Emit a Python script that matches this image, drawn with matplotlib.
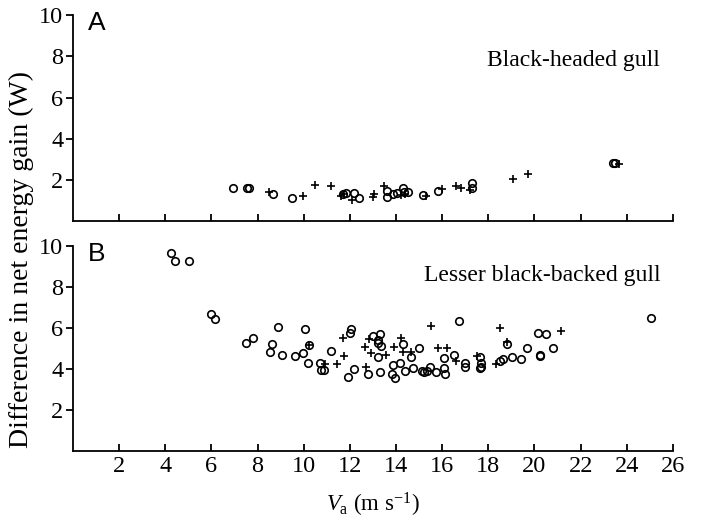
import matplotlib.pyplot as plt

plt.rcParams['font.family'] = ['Liberation Serif', 'DejaVu Serif']
plt.rcParams['mathtext.fontset'] = 'custom'
plt.rcParams['mathtext.rm'] = 'Liberation Serif'
plt.rcParams['mathtext.it'] = 'Liberation Serif:italic'

# panel A: black-headed gull
a_circ_x = [6.95, 7.55, 7.65, 8.65, 9.5, 11.7, 11.85, 12.2, 12.4, 13.6, 13.6, 13.85,
            14.05, 14.3, 14.35, 14.5, 15.15, 15.8, 17.3, 17.3, 23.4, 23.5]
a_circ_y = [1.6, 1.6, 1.6, 1.33, 1.12, 1.3, 1.35, 1.38, 1.12, 1.45, 1.15, 1.3,
            1.35, 1.6, 1.4, 1.4, 1.27, 1.45, 1.85, 1.6, 2.8, 2.8]
a_plus_x = [8.5, 9.95, 10.5, 11.2, 11.6, 11.75, 12.1, 13.0, 13.05, 13.5, 14.2, 14.4,
            15.3, 16.0, 16.6, 16.8, 17.2, 19.05, 19.7, 23.65]
a_plus_y = [1.42, 1.2, 1.75, 1.7, 1.2, 1.3, 1.05, 1.15, 1.3, 1.72, 1.25, 1.3,
            1.2, 1.55, 1.7, 1.6, 1.5, 2.05, 2.28, 2.75]

# panel B: lesser black-backed gull
b_circ_x = [4.25, 4.43, 5.03, 5.99, 6.16, 7.51, 7.8, 8.62, 8.55, 8.87, 9.06, 9.62,
            9.95, 10.07, 10.17, 10.24, 10.69, 10.75, 10.9, 11.18, 11.94, 11.99, 12.07,
            12.2, 12.79, 13.0, 13.3, 13.2, 13.24, 13.35, 13.2, 13.32, 13.87, 13.83,
            13.95, 14.19, 14.31, 14.67, 14.4, 14.73, 14.99, 15.13, 15.23, 15.35, 15.47,
            15.75, 16.1, 16.07, 16.11, 16.5, 16.72, 16.97, 16.97, 17.63, 17.67, 17.63,
            17.7, 18.5, 18.65, 18.79, 19.04, 19.4, 19.66, 20.15, 20.52, 20.23, 20.25,
            20.8, 25.07]
b_circ_y = [9.67, 9.29, 9.3, 6.69, 6.45, 5.28, 5.53, 5.22, 4.81, 6.04, 4.7, 4.63,
            4.76, 5.96, 4.27, 5.17, 4.3, 3.95, 3.95, 4.88, 3.62, 5.74, 5.96,
            4.0, 3.73, 5.63, 5.71, 5.4, 5.25, 5.12, 4.6, 3.85, 4.19, 3.73,
            3.54, 4.27, 5.22, 4.57, 3.9, 4.06, 5.04, 3.9, 3.83, 3.91, 4.11,
            3.83, 4.52, 4.03, 3.75, 4.68, 6.35, 4.27, 4.11, 4.6, 4.27, 4.03,
            4.08, 4.4, 4.47, 5.2, 4.57, 4.47, 5.01, 5.75, 5.7, 4.68, 4.65,
            5.04, 6.48]
b_plus_x = [10.24, 10.94, 11.44, 11.73, 11.72, 12.72, 12.67, 12.82, 12.92, 13.58, 13.9,
            14.22, 14.31, 14.63, 15.5, 15.81, 16.22, 16.62, 17.49, 18.32, 18.5, 18.79,
            21.17]
b_plus_y = [5.17, 4.24, 4.24, 4.65, 5.53, 4.08, 5.09, 5.45, 4.8, 4.68, 5.09,
            5.5, 4.84, 4.84, 6.1, 5.01, 5.01, 4.4, 4.63, 4.24, 5.99, 5.33,
            5.87]

xticks = list(range(2, 27, 2))
yticks = [2, 4, 6, 8, 10]

fig = plt.figure(figsize=(7.01, 5.24), dpi=100)
axA = fig.add_axes([0.104, 0.578, 0.856, 0.393])
axB = fig.add_axes([0.104, 0.140, 0.856, 0.390])

panels = [
    (axA, a_circ_x, a_circ_y, a_plus_x, a_plus_y, 'A', 'Black-headed gull', 7.8),
    (axB, b_circ_x, b_circ_y, b_plus_x, b_plus_y, 'B', 'Lesser black-backed gull', 8.55),
]
for ax, cx, cy, px, py, letter, name, ny in panels:
    ax.plot(cx, cy, 'o', ms=5.4, mfc='none', mec='black', mew=1.2, clip_on=False)
    ax.plot(px, py, '+', ms=6, mec='black', mew=1.2, clip_on=False)
    ax.set_xlim(0, 26)
    ax.set_ylim(0, 10)
    ax.set_xticks(xticks)
    ax.set_yticks(yticks)
    ax.spines['top'].set_visible(False)
    ax.spines['right'].set_visible(False)
    for s in ['left', 'bottom']:
        ax.spines[s].set_linewidth(1.3)
    ax.tick_params(axis='x', direction='in', length=5, width=1.3, labelsize=17.5, pad=4)
    ax.tick_params(axis='y', direction='out', length=5, width=1.3, labelsize=17.5, pad=2)
    ax.text(0.65, 10.2, letter, fontsize=19, family=['Liberation Sans', 'DejaVu Sans'],
            va='top', ha='left')
    ax.text(25.45, ny, name, fontsize=17, ha='right', va='center')

axA.tick_params(axis='x', labelbottom=False)
axB.set_xlabel(r'$V_\mathrm{a}$ (m s$^{-1}$)', fontsize=16.5, labelpad=10)
fig.text(0.031, 0.505, 'Difference in net energy gain (W)', rotation=90,
         fontsize=20, ha='center', va='center')

fig.savefig('out.png', dpi=100)
